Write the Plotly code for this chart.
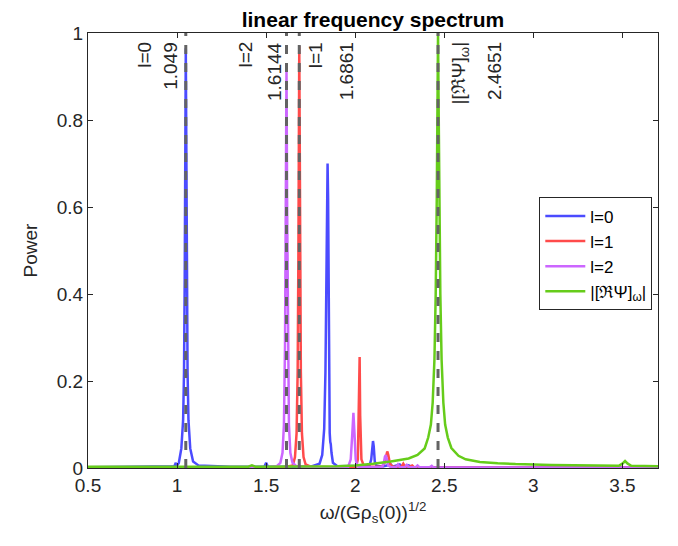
import plotly.graph_objects as go

# ---- data ----
l0_x = [0.50, 0.95, 0.985, 0.993, 0.998, 1.010, 1.024, 1.034, 1.039, 1.043, 1.046, 1.049, 1.052, 1.055, 1.059,
        1.064, 1.074, 1.090, 1.120, 1.300, 1.490, 1.500, 1.510, 1.750, 1.800, 1.815, 1.826, 1.833, 1.838, 1.842,
        1.845, 1.848, 1.851, 1.854, 1.857, 1.860, 1.863, 1.867, 1.875, 1.900, 2.080, 2.090, 2.096, 2.100, 2.104,
        2.110, 2.120, 2.150, 2.200, 2.210, 2.250, 2.260, 2.300, 2.320, 2.400, 3.700]
l0_y = [0.002, 0.003, 0.004, 0.012, 0.004, 0.012, 0.045, 0.11, 0.22, 0.44, 0.74, 0.965, 0.74, 0.44, 0.22,
        0.11, 0.045, 0.015, 0.006, 0.003, 0.003, 0.012, 0.003, 0.003, 0.010, 0.030, 0.090, 0.22, 0.45, 0.62,
        0.70, 0.62, 0.40, 0.18, 0.08, 0.06, 0.055, 0.035, 0.012, 0.004, 0.005, 0.020, 0.055, 0.062, 0.050,
        0.015, 0.005, 0.003, 0.008, 0.003, 0.008, 0.003, 0.006, 0.002, 0.002, 0.002]

l1_x = [0.50, 1.600, 1.650, 1.662, 1.671, 1.677, 1.681, 1.6835, 1.6861, 1.6887, 1.691, 1.695, 1.701, 1.710,
        1.722, 1.750, 1.900, 2.005, 2.015, 2.019, 2.022, 2.025, 2.028, 2.035, 2.050, 2.150, 2.165, 2.175, 2.180,
        2.186, 2.195, 2.210, 2.260, 2.270, 2.280, 2.300, 2.320, 2.330, 2.360, 3.700]
l1_y = [0.001, 0.002, 0.006, 0.025, 0.08, 0.22, 0.48, 0.75, 0.97, 0.75, 0.48, 0.22, 0.08, 0.025,
        0.008, 0.003, 0.002, 0.003, 0.02, 0.12, 0.255, 0.255, 0.12, 0.02, 0.003, 0.003, 0.012, 0.033, 0.038,
        0.030, 0.010, 0.003, 0.003, 0.010, 0.003, 0.002, 0.006, 0.002, 0.001, 0.001]

l2_x = [0.50, 1.500, 1.560, 1.580, 1.592, 1.600, 1.606, 1.610, 1.6144, 1.618, 1.622, 1.628, 1.636, 1.648,
        1.670, 1.800, 1.960, 1.975, 1.984, 1.990, 1.996, 2.003, 2.012, 2.030, 2.150, 2.160, 2.167, 2.172, 2.178,
        2.185, 2.200, 2.230, 2.240, 2.250, 2.280, 2.290, 2.300, 2.340, 2.350, 2.360, 2.420, 2.430, 2.440, 2.550,
        3.700]
l2_y = [0.001, 0.001, 0.004, 0.012, 0.035, 0.10, 0.28, 0.60, 0.915, 0.60, 0.28, 0.10, 0.035, 0.012,
        0.004, 0.002, 0.002, 0.020, 0.080, 0.127, 0.080, 0.020, 0.004, 0.002, 0.002, 0.010, 0.026, 0.030, 0.020,
        0.006, 0.002, 0.002, 0.008, 0.002, 0.002, 0.007, 0.002, 0.002, 0.006, 0.002, 0.002, 0.005, 0.001, 0.001,
        0.001]

psi_x = [0.50, 1.400, 1.420, 1.440, 1.900, 2.000, 2.100, 2.200, 2.300, 2.350, 2.390, 2.410, 2.425, 2.435,
         2.445, 2.452, 2.458, 2.462, 2.4651, 2.468, 2.472, 2.478, 2.485, 2.495, 2.505, 2.520, 2.540, 2.580,
         2.620, 2.700, 2.800, 2.900, 3.100, 3.300, 3.480, 3.500, 3.515, 3.530, 3.550, 3.700]
psi_y = [0.003, 0.003, 0.006, 0.003, 0.004, 0.006, 0.010, 0.015, 0.022, 0.030, 0.045, 0.070, 0.10, 0.15,
         0.25, 0.40, 0.62, 0.85, 1.00, 0.85, 0.62, 0.40, 0.25, 0.15, 0.10, 0.07, 0.046, 0.028,
         0.020, 0.014, 0.011, 0.009, 0.007, 0.006, 0.005, 0.010, 0.016, 0.010, 0.005, 0.004]

series_names = ["l=0", "l=1", "l=2", "|[ℜΨ]<sub>ω</sub>|"]
series_colors = ["#4B4BFF", "#FF4B4B", "#CC66FF", "#66CC1A"]

mode_freqs = [1.049, 1.6144, 1.6861, 2.4651]
mode_labels = ["l=0", "l=2", "l=1", "|[ℜΨ]<sub>ω</sub>|"]
mode_values = ["1.049", "1.6144", "1.6861", "2.4651"]
label_shift = [-42, -42, 16, 7]
value_shift = [-16, -12, 47, 56]
label_anchor = ["center", "center", "center", "left"]

x_ticks = [0.5, 1, 1.5, 2, 2.5, 3, 3.5]
y_ticks = [0, 0.2, 0.4, 0.6, 0.8, 1]

# ---- figure ----
FONT = "Liberation Sans, Arial, Helvetica, sans-serif"
INK = "#262626"

fig = go.Figure()
for xs, ys, name, col in zip([l0_x, l1_x, l2_x, psi_x], [l0_y, l1_y, l2_y, psi_y],
                             series_names, series_colors):
    fig.add_trace(go.Scatter(x=xs, y=ys, mode="lines", name=name,
                             line=dict(color=col, width=2.5), cliponaxis=True))

for f in mode_freqs:
    fig.add_shape(type="line", xref="x", yref="y", x0=f, x1=f, y0=0, y1=1,
                  line=dict(color="#636363", width=3, dash="dash"), layer="above")

for f, lab, val, ls, vs, la in zip(mode_freqs, mode_labels, mode_values,
                                   label_shift, value_shift, label_anchor):
    for txt, sh, anc in [(lab, ls, la), (val, vs, "center")]:
        fig.add_annotation(x=f, y=1, xref="x", yref="y", text=txt, showarrow=False,
                           textangle=-90, xanchor=anc, yanchor="top", xshift=sh, yshift=-7,
                           font=dict(family=FONT, size=19, color=INK))

# page body adds an 8px margin, so the figure is 16px smaller than the window
fig.update_layout(
    width=662, height=530,
    margin=dict(l=80, r=12, t=25, b=70),
    paper_bgcolor="white", plot_bgcolor="white",
    font=dict(family=FONT, size=19, color=INK),
    title=dict(text="<b>linear frequency spectrum</b>", x=0.5, xref="paper", xanchor="center",
               y=1, yref="paper", yanchor="bottom", pad=dict(b=6),
               font=dict(family=FONT, size=21, color="black")),
    showlegend=True,
    legend=dict(x=0.99, y=0.622, xanchor="right", yanchor="top",
                bgcolor="white", bordercolor=INK, borderwidth=1,
                font=dict(family=FONT, size=17, color="black"),
                itemwidth=40, tracegroupgap=0),
)
fig.update_xaxes(range=[0.5, 3.7], tickvals=x_ticks, ticktext=[str(v) for v in x_ticks],
                 ticks="inside", ticklen=5, tickcolor=INK, showline=True, linecolor=INK, linewidth=1,
                 mirror="ticks", showgrid=False, zeroline=False, tickfont=dict(size=19),
                 title=dict(text="ω/(Gρ<sub>s</sub>(0))<sup>1/2</sup>", standoff=10,
                            font=dict(family=FONT, size=19, color=INK)))
fig.update_yaxes(range=[0, 1], tickvals=y_ticks, ticktext=["0", "0.2", "0.4", "0.6", "0.8", "1"],
                 ticks="inside", ticklen=5, tickcolor=INK, showline=True, linecolor=INK, linewidth=1,
                 mirror="ticks", showgrid=False, zeroline=False, tickfont=dict(size=19),
                 title=dict(text="Power", standoff=14, font=dict(family=FONT, size=19, color=INK)))

fig.write_html("out.html")
